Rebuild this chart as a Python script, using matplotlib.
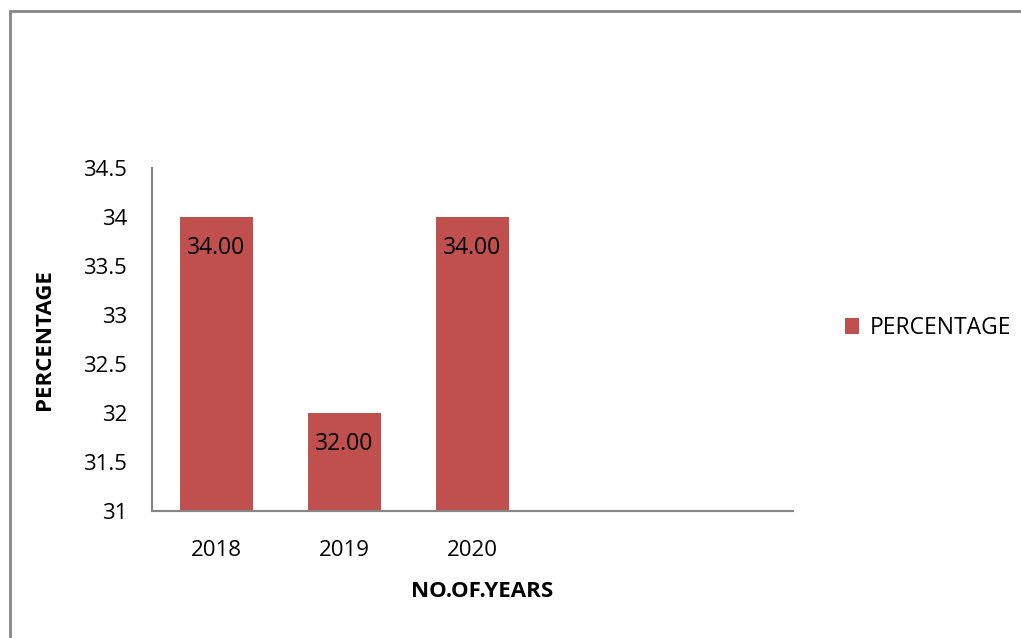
import matplotlib.pyplot as plt
from matplotlib.patches import Rectangle

# Data
years = ["2018", "2019", "2020"]
percentage = [34.00, 32.00, 34.00]
y_ticks = [31, 31.5, 32, 32.5, 33, 33.5, 34, 34.5]
y_tick_labels = ["31", "31.5", "32", "32.5", "33", "33.5", "34", "34.5"]
n_slots = 5  # the category axis has room for five years, only three are filled

bar_color = "#C0504D"
axis_gray = "#868686"

plt.rcParams['font.family'] = ['Open Sans', 'DejaVu Sans']

fig = plt.figure(figsize=(10.21, 6.38), dpi=100)
ax = fig.add_axes([0.1489, 0.1991, 0.6278, 0.5376])

# chart border (top and left edges visible)
fig.patches.append(Rectangle((0.0098, -0.05), 1.2, 1.033, transform=fig.transFigure,
                             fill=False, edgecolor=axis_gray, linewidth=2))

x = list(range(len(years)))
bars = ax.bar(x, percentage, width=0.57, color=bar_color, label="PERCENTAGE")
ax.bar_label(bars, fmt="%.2f", padding=-31, fontsize=16.5, color="black")

ax.set_xlim(-0.5, n_slots - 0.5)
ax.set_ylim(31, 34.5)
ax.set_xticks(x)
ax.set_xticklabels(years, fontsize=16)
ax.set_yticks(y_ticks)
ax.set_yticklabels(y_tick_labels, fontsize=16)
ax.tick_params(axis='both', length=0)
ax.tick_params(axis='y', pad=18)
ax.tick_params(axis='x', pad=21)

for side in ["top", "right"]:
    ax.spines[side].set_visible(False)
for side in ["left", "bottom"]:
    ax.spines[side].set_color(axis_gray)
    ax.spines[side].set_linewidth(1.5)

ax.set_xlabel("NO.OF.YEARS", fontsize=16, fontweight="bold")
ax.xaxis.set_label_coords(0.515, -0.205)
ax.set_ylabel("PERCENTAGE", fontsize=16, fontweight="bold")
ax.yaxis.set_label_coords(-0.152, 0.5)

fig.legend(loc="center left", bbox_to_anchor=(0.816, 0.486), frameon=False,
           fontsize=16.5, handlelength=0.65, handleheight=0.65, handletextpad=0.45,
           borderpad=0)

fig.savefig("out.png", dpi=100)
